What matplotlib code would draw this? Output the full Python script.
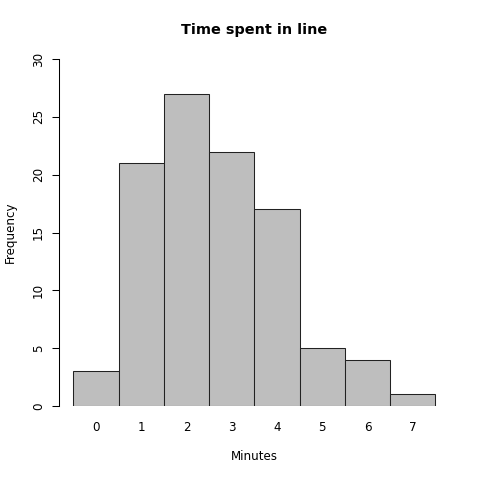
import numpy as np
import matplotlib.pyplot as plt

minutes = ['0', '1', '2', '3', '4', '5', '6', '7']
counts = [3, 21, 27, 22, 17, 5, 4, 1]
yticks = [0, 5, 10, 15, 20, 25, 30]

fig = plt.figure(figsize=(4.8, 4.8), dpi=100)
# plot region like R's default margins
ax = fig.add_axes([59/480, 74/480, 390.8/480, 347/480])

x = np.arange(len(counts)) + 0.5
ax.bar(x, counts, width=1, color='#BEBEBE', edgecolor='#222222', linewidth=0.75)

ax.set_xlim(-0.32, 8.32)
ax.set_ylim(0, 30)

for s in ['top', 'right', 'bottom']:
    ax.spines[s].set_visible(False)
ax.spines['left'].set_bounds(0, 30)
ax.spines['left'].set_linewidth(0.75)

ax.set_xticks(x)
ax.set_xticklabels(minutes, fontsize=8.6)
ax.tick_params(axis='x', length=0, pad=11)
ax.set_yticks(yticks)
ax.set_yticklabels([str(t) for t in yticks], fontsize=8.6, rotation=90, va='center')
ax.tick_params(axis='y', length=5, width=0.75, pad=5)

fig.text(254.4/480, 1 - 30/480, 'Time spent in line', ha='center', va='center',
         fontsize=10.4, fontweight='bold')
fig.text(254.4/480, 1 - 457/480, 'Minutes', ha='center', va='center', fontsize=8.6)
fig.text(10/480, 1 - 232/480, 'Frequency', ha='center', va='center', fontsize=8.6,
         rotation=90)

fig.savefig('out.png', dpi=100)
